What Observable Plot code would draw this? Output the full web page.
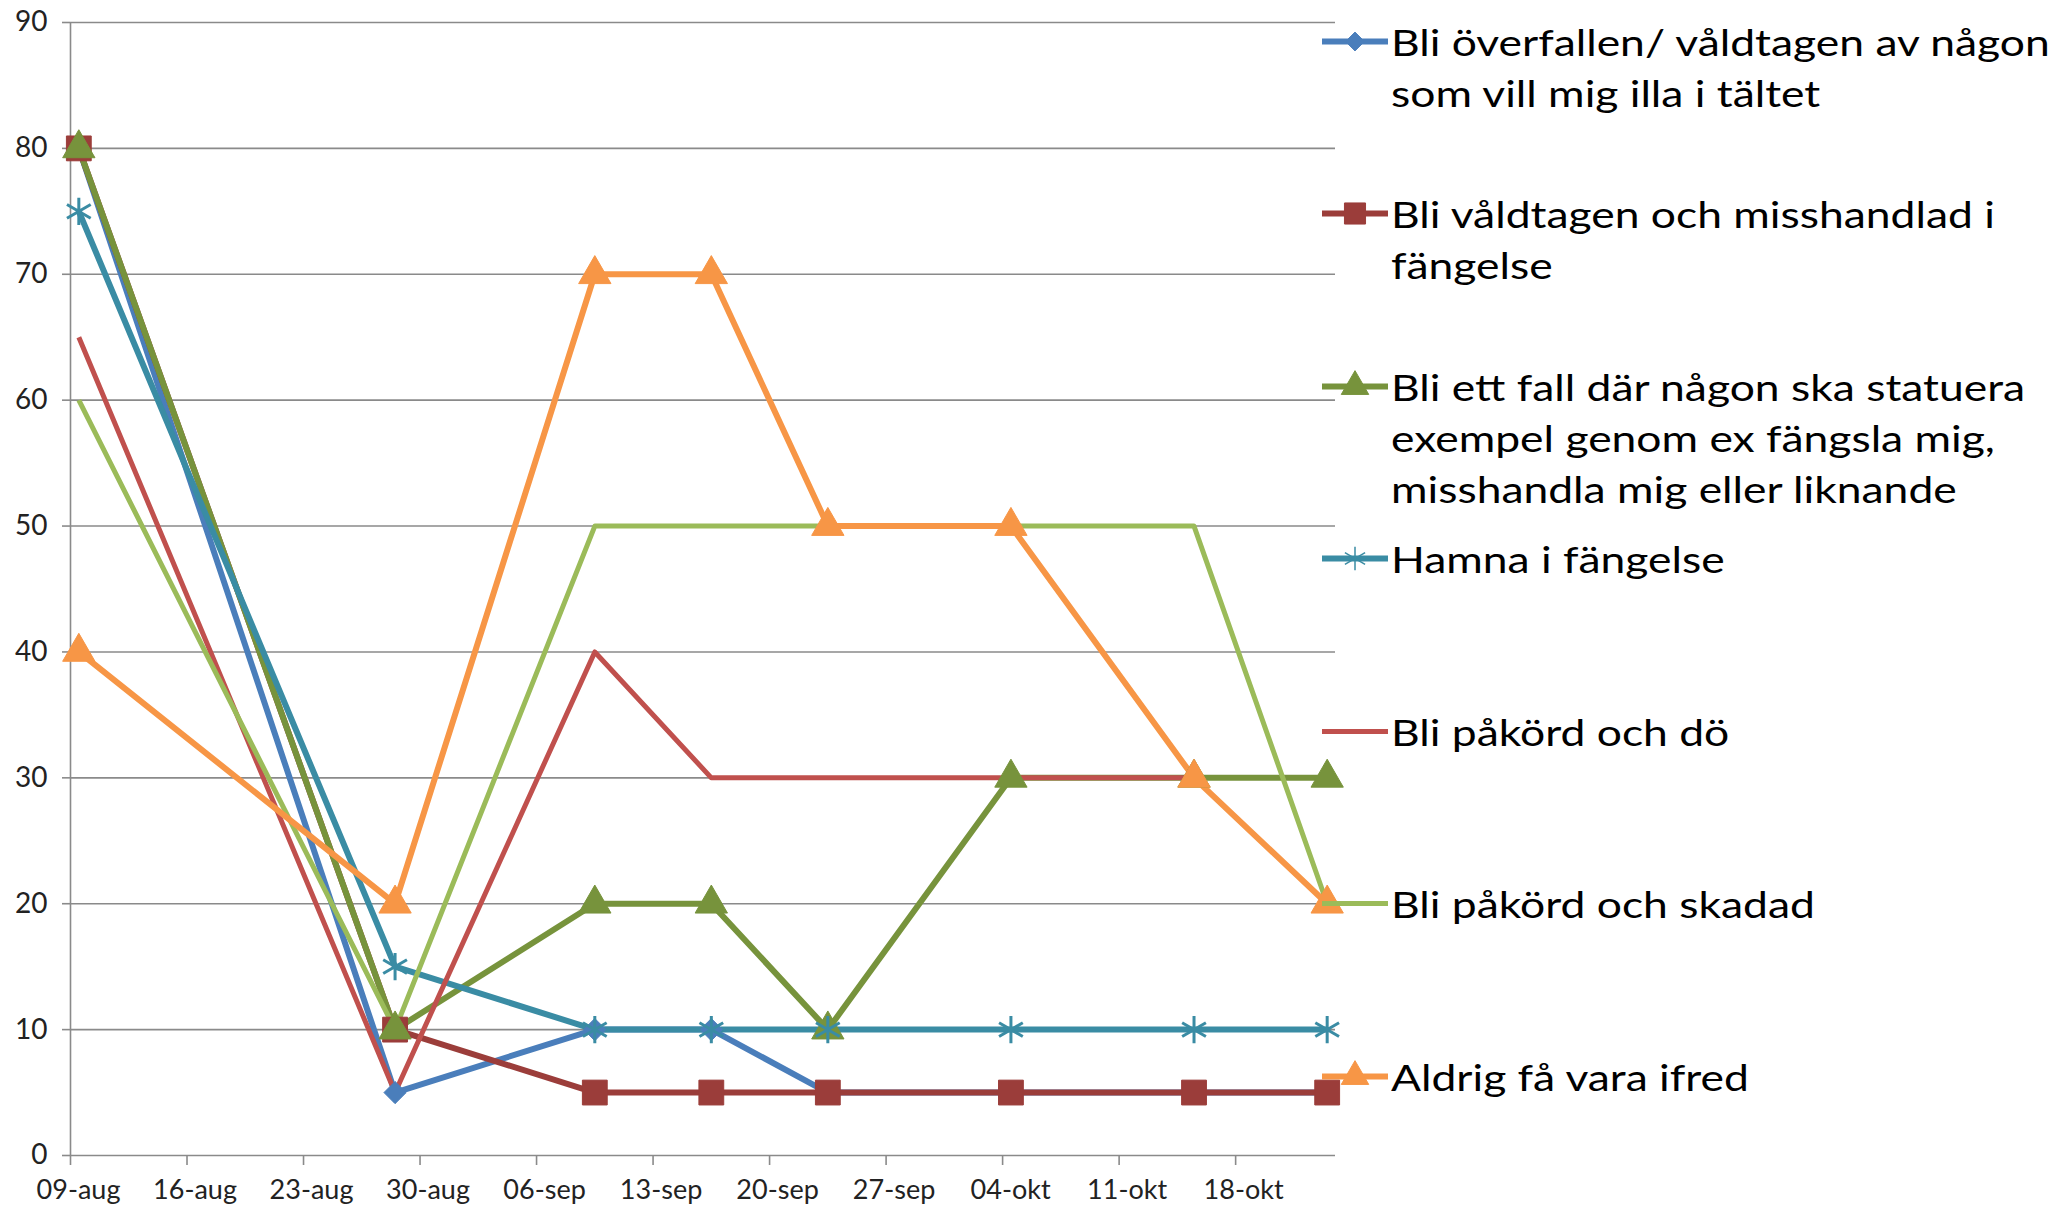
<!DOCTYPE html>
<html>
<head>
<meta charset="utf-8">
<script src="https://cdn.jsdelivr.net/npm/d3@7"></script>
<script src="https://cdn.jsdelivr.net/npm/@observablehq/plot@0.6"></script>
<style>
  body { margin: 0; background: #fff; }
  #wrap { position: relative; width: 2062px; height: 1205px; font-family: Lato, sans-serif; }
  #legend { position: absolute; left: 0; top: 0; width: 2062px; height: 1205px; pointer-events: none; }
  .item { position: absolute; left: 1322px; display: flex; align-items: flex-start; }
  .item svg { flex: none; margin-right: 3px; }
  .label { font-family: Lato, sans-serif; font-size: 37px; line-height: 51px; color: #000;
           white-space: pre; transform: scaleX(1.2); transform-origin: left top; }
</style>
</head>
<body>
<div id="wrap"></div>
<script>
// ---- Data ----
const dates = ["2010-08-09", "2010-08-28", "2010-09-09", "2010-09-16", "2010-09-23", "2010-10-04", "2010-10-15", "2010-10-23"];

const seriesNames = [
  "Bli överfallen/ våldtagen av någon\nsom vill mig illa i tältet",
  "Bli våldtagen och misshandlad i\nfängelse",
  "Bli ett fall där någon ska statuera\nexempel genom ex fängsla mig,\nmisshandla mig eller liknande",
  "Hamna i fängelse",
  "Bli påkörd och dö",
  "Bli påkörd och skadad",
  "Aldrig få vara ifred"
];

const overfallen       = [80, 5, 10, 10, 5, 5, 5, 5];
const fangelseMisshand = [80, 10, 5, 5, 5, 5, 5, 5];
const statuera         = [80, 10, 20, 20, 10, 30, 30, 30];
const hamnaFangelse    = [75, 15, 10, 10, 10, 10, 10, 10];
const pakordDo         = [65, 5, 40, 30, 30, 30, 30, null];
const pakordSkadad     = [60, 10, 50, 50, 50, 50, 50, 20];
const aldrigIfred      = [40, 20, 70, 70, 50, 50, 30, 20];

const seriesValues = [overfallen, fangelseMisshand, statuera, hamnaFangelse, pakordDo, pakordSkadad, aldrigIfred];

const seriesColors  = ["#4A7EBB", "#9B3D3A", "#77933C", "#3A8CA4", "#C0504D", "#9BBB59", "#F79646"];
const seriesSymbols = ["diamond2", "square", "triangle", "asterisk", null, null, "triangle"];
const symbolRadius  = [10, 14, 12, 13, 0, 0, 12];
const lineWidths    = [6, 6, 6, 6, 5, 5, 6];

const yTicks = [0, 10, 20, 30, 40, 50, 60, 70, 80, 90];
const xTickLabels = ["09-aug", "16-aug", "23-aug", "30-aug", "06-sep", "13-sep", "20-sep", "27-sep", "04-okt", "11-okt", "18-okt"];
const xDomainLabels = ["09-aug", "24-okt"];

// ---- Helpers ----
const monthIdx = {aug: 7, sep: 8, okt: 9};
const parseLabel = s => { const [d, m] = s.split("-"); return new Date(Date.UTC(2010, monthIdx[m], +d)); };
const HALF_DAY = 12 * 3600 * 1000;

const tickDates = xTickLabels.map(parseLabel);
const xDomain = xDomainLabels.map(parseLabel);

// Excel's date axis centres each point in its day
const rows = seriesValues.map((vals, i) => vals.map((v, j) => ({
  series: seriesNames[i],
  date: new Date(new Date(dates[j] + "T00:00:00Z").getTime() + HALF_DAY),
  value: v
})));

const gridColor = "#8A8A8A";

const marks = [
  Plot.gridY(yTicks, {stroke: gridColor, strokeOpacity: 1, strokeWidth: 1.6}),
  Plot.axisY(yTicks, {label: null, tickSize: 8, tickPadding: 15, fontSize: 28, stroke: gridColor, strokeOpacity: 1, strokeWidth: 1.6, fill: "#222"}),
  Plot.ruleX([xDomain[0]], {y1: 0, y2: 90, stroke: gridColor, strokeWidth: 1.6}),
  Plot.axisX(tickDates, {label: null, tickSize: 10, tickFormat: () => "", stroke: gridColor, strokeOpacity: 1, strokeWidth: 1.6}),
  Plot.axisX(tickDates, {label: null, tickSize: 0, tickPadding: 24, fontSize: 27, dx: 8, fill: "#222",
    tickFormat: (d, i) => xTickLabels[i]})
];

// all lines first, then all markers (as Excel renders)
rows.forEach((r, i) => {
  marks.push(Plot.line(r, {x: "date", y: "value", stroke: seriesColors[i], strokeWidth: lineWidths[i],
    strokeLinejoin: "round", strokeLinecap: "butt"}));
});
rows.forEach((r, i) => {
  if (!seriesSymbols[i]) return;
  const isStroke = seriesSymbols[i] === "asterisk";
  marks.push(Plot.dot(r.filter(d => d.value != null), {
    x: "date", y: "value", symbol: seriesSymbols[i], r: symbolRadius[i],
    fill: isStroke ? "none" : seriesColors[i],
    stroke: seriesColors[i], strokeWidth: isStroke ? 3 : 1
  }));
});

const chart = Plot.plot({
  width: 2062,
  height: 1205,
  marginLeft: 70,
  marginRight: 727,
  marginTop: 22,
  marginBottom: 50,
  style: {fontFamily: "Lato, sans-serif", background: "#fff"},
  x: {type: "utc", domain: xDomain, axis: null},
  y: {domain: [0, 90], axis: null},
  marks
});

const wrap = document.getElementById("wrap");
wrap.appendChild(chart);

// ---- Legend (overlay on the right, like the Excel legend) ----
const legend = document.createElement("div");
legend.id = "legend";
wrap.appendChild(legend);

const legendTop = 41, legendStep = 172.5, lh = 51;
const symMap = {diamond2: d3.symbolDiamond2, square: d3.symbolSquare, triangle: d3.symbolTriangle, asterisk: d3.symbolAsterisk};
seriesNames.forEach((name, i) => {
  const item = document.createElement("div");
  item.className = "item";
  item.style.top = (legendTop + i * legendStep - lh / 2) + "px";
  const svg = d3.create("svg").attr("width", 66).attr("height", lh);
  svg.append("line").attr("x1", 0).attr("x2", 66).attr("y1", lh / 2).attr("y2", lh / 2)
    .attr("stroke", seriesColors[i]).attr("stroke-width", lineWidths[i]);
  if (seriesSymbols[i]) {
    const r = symbolRadius[i] * 0.85;
    const isStroke = seriesSymbols[i] === "asterisk";
    svg.append("path")
      .attr("transform", `translate(33,${lh / 2})`)
      .attr("d", d3.symbol(symMap[seriesSymbols[i]], Math.PI * r * r)())
      .attr("fill", isStroke ? "none" : seriesColors[i])
      .attr("stroke", seriesColors[i])
      .attr("stroke-width", isStroke ? 1.5 : 1);
  }
  item.appendChild(svg.node());
  const lab = document.createElement("div");
  lab.className = "label";
  lab.textContent = name;
  item.appendChild(lab);
  legend.appendChild(item);
});
</script>
</body>
</html>
